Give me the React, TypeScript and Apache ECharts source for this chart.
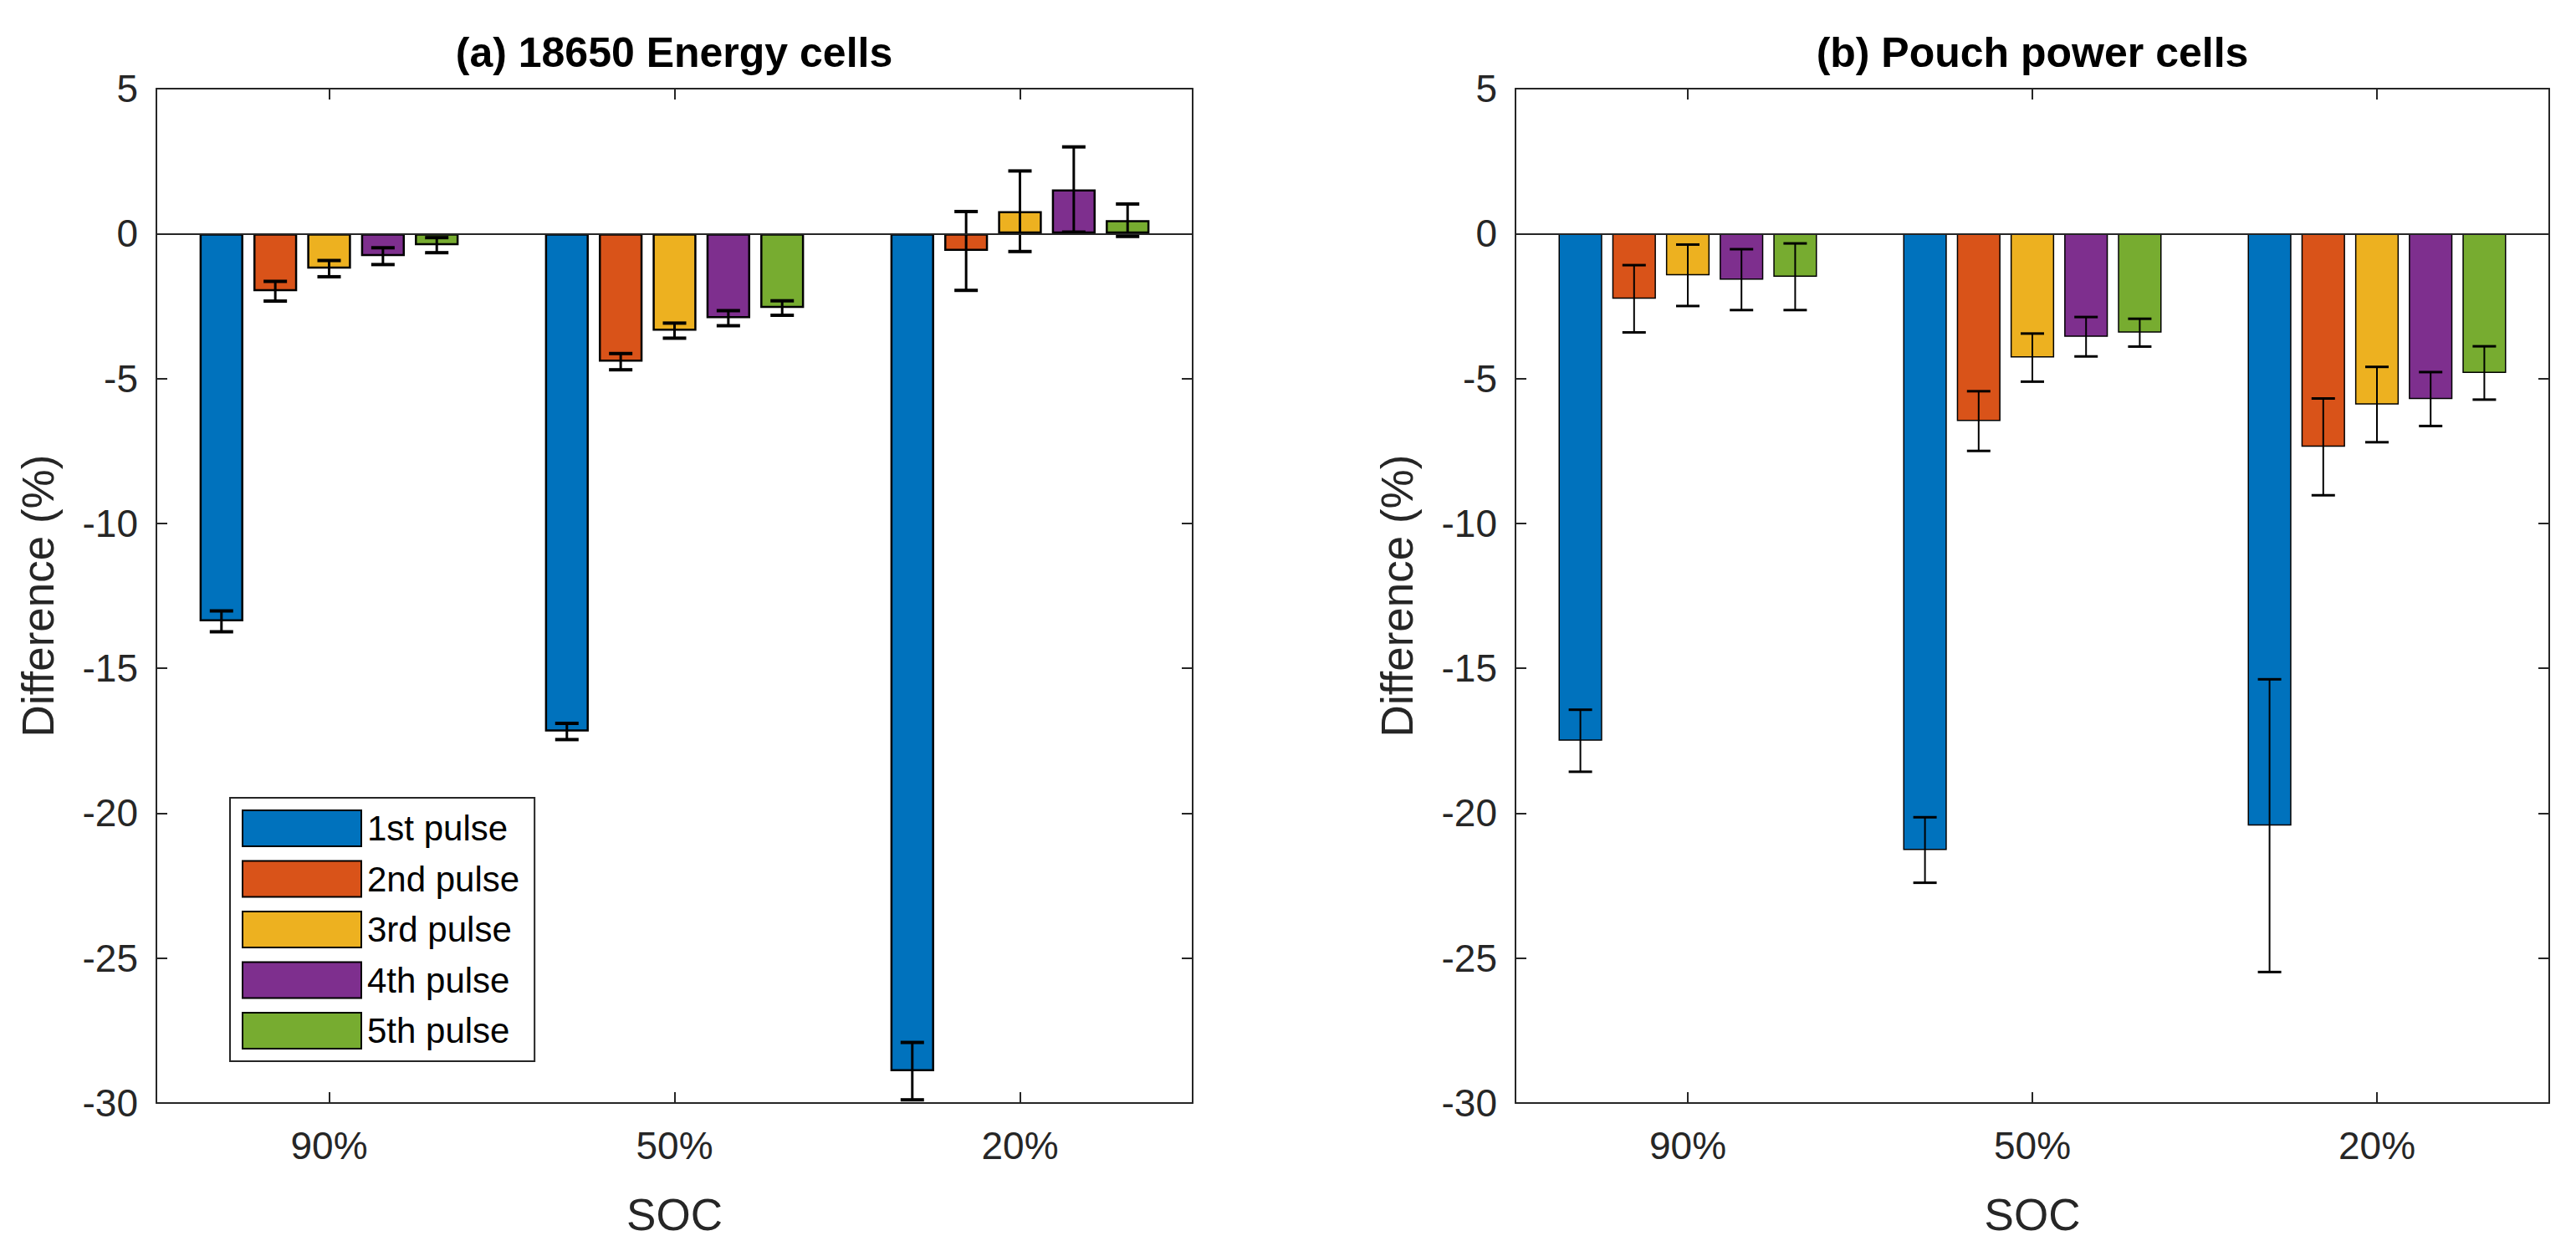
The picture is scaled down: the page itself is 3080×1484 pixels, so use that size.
import React, { useEffect, useRef } from "react";
import * as echarts from "echarts";

const categories = ["90%", "50%", "20%"];
const pulseNames = ["1st pulse", "2nd pulse", "3rd pulse", "4th pulse", "5th pulse"];
const pulseColors = ["#0072BD", "#D95319", "#EDB120", "#7E2F8E", "#77AC30"];
const yTicks = { min: -30, max: 5, interval: 5 };

// (a) 18650 Energy cells: mean per pulse (rows) for each SOC (columns)
const energyMean = [
  [-13.38, -17.18, -28.9],
  [-1.99, -4.42, -0.6],
  [-1.21, -3.35, 0.77],
  [-0.78, -2.92, 1.52],
  [-0.4, -2.57, 0.46],
];
const energyErr = [
  [0.36, 0.28, 0.99],
  [0.34, 0.28, 1.36],
  [0.28, 0.26, 1.39],
  [0.29, 0.26, 1.47],
  [0.26, 0.25, 0.56],
];

// (b) Pouch power cells
const pouchMean = [
  [-17.5, -21.27, -20.43],
  [-2.25, -6.47, -7.36],
  [-1.44, -4.28, -5.9],
  [-1.59, -3.56, -5.71],
  [-1.49, -3.42, -4.81],
];
const pouchErr = [
  [1.07, 1.13, 5.05],
  [1.16, 1.03, 1.67],
  [1.06, 0.83, 1.3],
  [1.05, 0.68, 0.93],
  [1.15, 0.48, 0.92],
];

const FONT = '"Liberation Sans", Arial, Helvetica, sans-serif';
const AXIS_COLOR = "#262626";
const BAR_CAT_GAP = 0.25;
const BAR_GAP = 0.23;

function makeAxes(gridIndex: number) {
  const lineStyle = { color: AXIS_COLOR, width: 2 };
  const xBottom = {
    type: "category",
    gridIndex,
    data: categories,
    position: "bottom",
    name: "SOC",
    nameLocation: "middle",
    nameGap: 107,
    nameMoveOverlap: false,
    nameTextStyle: { fontFamily: FONT, fontSize: 53, color: AXIS_COLOR },
    axisLine: { show: true, onZero: false, lineStyle },
    axisTick: { show: true, inside: true, alignWithLabel: true, length: 13, lineStyle },
    axisLabel: { fontFamily: FONT, fontSize: 46, color: AXIS_COLOR, margin: 28 },
    splitLine: { show: false },
  };
  const xTop = {
    type: "category",
    gridIndex,
    data: categories,
    position: "top",
    axisLine: { show: true, onZero: false, lineStyle },
    axisTick: { show: true, inside: true, alignWithLabel: true, length: 13, lineStyle },
    axisLabel: { show: false },
    splitLine: { show: false },
  };
  const yLeft = {
    type: "value",
    gridIndex,
    position: "left",
    min: yTicks.min,
    max: yTicks.max,
    interval: yTicks.interval,
    name: "Difference (%)",
    nameLocation: "middle",
    nameGap: 115,
    nameMoveOverlap: false,
    nameTextStyle: { fontFamily: FONT, fontSize: 53, color: AXIS_COLOR },
    axisLine: { show: true, onZero: false, lineStyle },
    axisTick: { show: true, inside: true, length: 13, lineStyle },
    axisLabel: { fontFamily: FONT, fontSize: 46, color: AXIS_COLOR, margin: 22 },
    splitLine: { show: false },
  };
  const yRight = {
    type: "value",
    gridIndex,
    position: "right",
    min: yTicks.min,
    max: yTicks.max,
    interval: yTicks.interval,
    axisLine: { show: true, onZero: false, lineStyle },
    axisTick: { show: true, inside: true, length: 13, lineStyle },
    axisLabel: { show: false },
    splitLine: { show: false },
  };
  return { xBottom, xTop, yLeft, yRight };
}

function makeSeries(
  means: number[][],
  errs: number[][],
  xAxisIndex: number,
  yAxisIndex: number,
  borderWidth: number,
  stemWidth: number,
  capWidth: number
) {
  const bars = means.map((vals, k) => ({
    type: "bar",
    name: pulseNames[k],
    xAxisIndex,
    yAxisIndex,
    data: vals,
    barGap: `${BAR_GAP * 100}%`,
    barCategoryGap: `${BAR_CAT_GAP * 100}%`,
    itemStyle: { color: pulseColors[k], borderColor: "#000", borderWidth },
    emphasis: { disabled: true },
    markLine:
      k === 0
        ? {
            silent: true,
            symbol: ["none", "none"],
            label: { show: false },
            lineStyle: { color: AXIS_COLOR, width: 2, type: "solid" },
            data: [{ yAxis: 0 }],
            z: 10,
          }
        : undefined,
    z: 2,
  }));

  const errData: number[][] = [];
  means.forEach((vals, k) => {
    vals.forEach((v, c) => {
      errData.push([c, v - errs[k][c], v + errs[k][c], k]);
    });
  });

  const nSeries = means.length;
  const errSeries = {
    type: "custom",
    xAxisIndex,
    yAxisIndex,
    silent: true,
    z: 5,
    data: errData,
    encode: { x: 0, y: [1, 2] },
    renderItem: (params: any, api: any) => {
      const c = api.value(0);
      const lo = api.value(1);
      const hi = api.value(2);
      const k = api.value(3);
      const band = api.size([1, 0])[0];
      const barW = (band * (1 - BAR_CAT_GAP)) / (nSeries + (nSeries - 1) * BAR_GAP);
      const cx = api.coord([c, 0])[0] + (k - (nSeries - 1) / 2) * barW * (1 + BAR_GAP);
      const yLo = api.coord([c, lo])[1];
      const yHi = api.coord([c, hi])[1];
      const half = 14;
      const style = { stroke: "#000", lineWidth: stemWidth, fill: "none" };
      const capStyle = { stroke: "#000", lineWidth: capWidth, fill: "none" };
      return {
        type: "group",
        children: [
          { type: "line", shape: { x1: cx, y1: yLo, x2: cx, y2: yHi }, style },
          { type: "line", shape: { x1: cx - half, y1: yLo, x2: cx + half, y2: yLo }, style: capStyle },
          { type: "line", shape: { x1: cx - half, y1: yHi, x2: cx + half, y2: yHi }, style: capStyle },
        ],
      };
    },
  };
  return [...bars, errSeries];
}

export default function App() {
  const ref = useRef<HTMLDivElement>(null);

  useEffect(() => {
    document.body.style.margin = "0";
    if (!ref.current) return;
    const chart = echarts.init(ref.current, undefined, { renderer: "svg" });

    const a = makeAxes(0);
    const b = makeAxes(1);

    const option: any = {
      animation: false,
      backgroundColor: "#ffffff",
      title: [
        {
          text: "(a) 18650 Energy cells",
          left: 806,
          top: 38,
          textAlign: "center",
          padding: 0,
          textStyle: { fontFamily: FONT, fontSize: 50, fontWeight: "bold", color: "#000" },
        },
        {
          text: "(b) Pouch power cells",
          left: 2430,
          top: 38,
          textAlign: "center",
          padding: 0,
          textStyle: { fontFamily: FONT, fontSize: 50, fontWeight: "bold", color: "#000" },
        },
      ],
      grid: [
        { left: 187, top: 106, width: 1239, height: 1217, containLabel: false },
        { left: 1812, top: 106, width: 1236, height: 1217, containLabel: false },
      ],
      xAxis: [
        a.xBottom,
        a.xTop,
        { ...b.xBottom, gridIndex: 1 },
        { ...b.xTop, gridIndex: 1 },
      ],
      yAxis: [
        a.yLeft,
        a.yRight,
        { ...b.yLeft, gridIndex: 1 },
        { ...b.yRight, gridIndex: 1 },
      ],
      legend: {
        data: pulseNames,
        orient: "vertical",
        left: 275,
        top: 954,
        icon: "rect",
        itemWidth: 142,
        itemHeight: 43,
        itemGap: 15.5,
        padding: [14, 18, 14, 14],
        borderColor: AXIS_COLOR,
        borderWidth: 2,
        backgroundColor: "#ffffff",
        selectedMode: false,
        itemStyle: { borderColor: "#000", borderWidth: 2 },
        textStyle: { fontFamily: FONT, fontSize: 42, color: "#000", padding: [0, 0, 0, 2] },
      },
      series: [
        ...makeSeries(energyMean, energyErr, 0, 0, 2.5, 3, 4),
        ...makeSeries(pouchMean, pouchErr, 2, 2, 1.5, 2, 3),
      ],
    };

    chart.setOption(option);
    return () => {
      chart.dispose();
    };
  }, []);

  return <div ref={ref} style={{ width: 3080, height: 1484 }} />;
}
